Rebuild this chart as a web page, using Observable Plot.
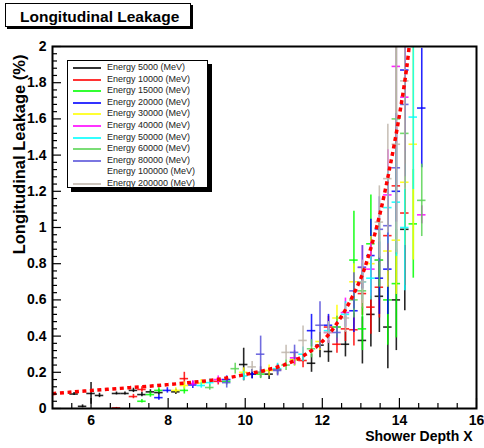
<!DOCTYPE html>
<html><head><meta charset="utf-8">
<script src="https://cdn.jsdelivr.net/npm/d3@7"></script>
<script src="https://cdn.jsdelivr.net/npm/@observablehq/plot@0.6"></script>
<style>
body{margin:0;background:#fff;font-family:"Liberation Sans",Arial,Helvetica,sans-serif;}
#wrap{position:relative;width:484px;height:448px;overflow:hidden;}
#title{position:absolute;left:5px;top:3px;width:186px;height:24px;border:1px solid #000;box-shadow:2px 2px 0 #000;background:#fff;font-weight:bold;font-size:15.5px;line-height:25px;box-sizing:border-box;padding-left:14px;white-space:nowrap;}
#legend{position:absolute;left:67px;top:60px;width:141px;height:128px;border:1px solid #000;box-shadow:4px 4px 0 #000;background:#fff;box-sizing:border-box;}
.row{position:absolute;left:0;height:11px;font-size:9px;line-height:11px;white-space:nowrap;}
.sw{position:absolute;left:5px;top:5px;width:28px;height:2px;opacity:0.8;}
.lt{position:absolute;left:39px;top:0;color:#222;}
</style></head>
<body><div id="wrap"><div id="plot"></div><div id="title">Longitudinal Leakage</div><div id="legend"></div></div>
<script>
// ---- data ----
const energies = [5000, 10000, 15000, 20000, 30000, 40000, 50000, 60000, 80000, 100000, 200000];
const colors = ["#000000", "#ff0000", "#00ff00", "#0000ff", "#ffff00", "#ff00ff", "#00ffff", "#59d454", "#5954d9", "#ffffff", "#c0b6ac"];
const xErr = 0.11;
// [x, y, yError]
const pts5000 = [[5.56,0.08,0.008],[5.78,0.012,0.008],[6.0,0.083,0.06],[6.22,0.072,0.012],[6.66,0.083,0.008],[6.88,0.083,0.008],[7.1,0.1,0.012],[7.32,0.077,0.012],[7.54,0.092,0.012],[7.76,0.088,0.015],[8.2,0.092,0.015],[9.96,0.243,0.09],[10.18,0.19,0.025],[10.62,0.19,0.03],[11.72,0.25,0.05],[11.94,0.35,0.07],[12.16,0.315,0.06],[12.6,0.355,0.07],[13.04,0.376,0.13],[13.26,0.52,0.18],[13.48,0.62,0.2],[13.7,0.45,0.23],[13.92,0.6,0.28],[14.14,0.99,0.45]];
const pts10000 = [[6.66,0.003,0.003],[7.1,0.066,0.012],[7.32,0.105,0.015],[8.42,0.165,0.035],[9.3,0.15,0.02],[10.84,0.215,0.03],[11.5,0.265,0.04],[12.16,0.45,0.06],[12.38,0.355,0.05],[12.6,0.44,0.07],[12.82,0.435,0.09],[13.04,0.635,0.12],[13.26,0.56,0.15],[13.48,0.67,0.17],[13.7,0.955,0.25],[13.92,1.23,0.35],[14.14,1.08,0.4]];
const pts15000 = [[7.32,0.04,0.01],[7.54,0.077,0.015],[7.76,0.1,0.015],[8.42,0.1,0.02],[9.52,0.15,0.02],[10.4,0.19,0.025],[11.28,0.27,0.035],[12.38,0.45,0.06],[12.82,0.82,0.27],[13.04,0.44,0.12],[13.26,0.91,0.27],[13.48,0.82,0.22],[13.7,0.6,0.25],[13.92,0.69,0.3],[14.36,1.02,0.3]];
const pts20000 = [[7.76,0.06,0.015],[7.98,0.1,0.015],[8.64,0.13,0.02],[9.52,0.16,0.02],[10.18,0.19,0.025],[11.72,0.43,0.09],[12.16,0.46,0.06],[12.82,0.54,0.12],[13.26,0.845,0.2],[13.48,0.72,0.2],[13.7,0.77,0.25],[13.92,1.2,0.35],[14.14,1.87,0.5],[14.58,1.66,0.33]];
const pts30000 = [[8.2,0.1,0.015],[8.42,0.127,0.02],[8.86,0.14,0.02],[9.96,0.2,0.025],[10.62,0.21,0.03],[11.28,0.27,0.035],[11.94,0.37,0.05],[12.38,0.5,0.07],[12.82,0.7,0.1],[13.26,0.8,0.15],[13.7,0.87,0.2],[13.92,0.93,0.3],[14.14,1.25,0.35],[14.36,1.46,0.64]];
const pts40000 = [[8.64,0.138,0.015],[9.3,0.16,0.02],[10.4,0.2,0.03],[11.28,0.28,0.04],[12.16,0.42,0.06],[12.6,0.53,0.08],[13.04,0.78,0.12],[13.26,0.77,0.15],[13.7,1.18,0.25],[13.92,1.89,0.4],[14.14,1.72,0.3],[14.58,1.07,0.05]];
const pts50000 = [[8.86,0.127,0.015],[9.08,0.143,0.02],[9.96,0.18,0.025],[10.84,0.22,0.03],[11.5,0.3,0.04],[12.16,0.43,0.05],[12.6,0.52,0.07],[13.04,0.7,0.1],[13.26,0.72,0.12],[13.7,1.11,0.2],[13.92,1.14,0.3],[14.14,1.0,0.35],[14.36,1.61,0.4]];
const pts60000 = [[9.08,0.116,0.015],[9.74,0.22,0.03],[10.4,0.2,0.03],[11.06,0.24,0.03],[11.72,0.33,0.05],[12.38,0.45,0.06],[12.82,0.6,0.1],[13.04,0.65,0.1],[13.48,0.82,0.15],[13.92,1.6,0.4],[14.14,1.52,0.3],[14.58,1.15,0.2]];
const pts80000 = [[9.52,0.143,0.03],[10.4,0.3,0.1],[10.84,0.21,0.03],[11.28,0.31,0.04],[11.94,0.46,0.13],[12.38,0.42,0.06],[12.82,0.65,0.1],[13.04,0.78,0.12],[13.48,0.99,0.18],[13.7,1.01,0.25],[13.92,1.33,0.3],[14.14,1.68,0.4]];
const pts100000 = [[9.74,0.17,0.02],[10.62,0.21,0.03],[11.5,0.3,0.04],[12.38,0.45,0.06],[13.04,0.7,0.1],[13.7,1.1,0.2]];
const pts200000 = [[10.18,0.23,0.03],[11.06,0.31,0.04],[11.5,0.376,0.08],[12.16,0.42,0.06],[12.6,0.5,0.08],[13.04,0.7,0.12],[13.48,1.03,0.2],[13.7,1.27,0.3],[13.92,1.46,0.6],[14.14,1.81,0.6]];
// fit curve
const fitX = [5.0,5.5,6.0,6.5,7.0,7.5,8.0,8.5,9.0,9.5,10.0,10.5,11.0,11.5,12.0,12.5,13.0,13.25,13.5,13.75,14.0,14.2,14.3];
const fitY = [0.082,0.091,0.099,0.107,0.115,0.123,0.132,0.142,0.153,0.168,0.188,0.21,0.24,0.29,0.37,0.51,0.72,0.88,1.08,1.33,1.62,1.9,2.1];
// axes
const xMajor = [6, 8, 10, 12, 14, 16];
const xMinor = [5.5, 6.5, 7, 7.5, 8.5, 9, 9.5, 10.5, 11, 11.5, 12.5, 13, 13.5, 14.5, 15, 15.5];
const yMajor = [0, 0.2, 0.4, 0.6, 0.8, 1, 1.2, 1.4, 1.6, 1.8, 2];
const yMinor = [0.04,0.08,0.12,0.16,0.24,0.28,0.32,0.36,0.44,0.48,0.52,0.56,0.64,0.68,0.72,0.76,0.84,0.88,0.92,0.96,1.04,1.08,1.12,1.16,1.24,1.28,1.32,1.36,1.44,1.48,1.52,1.56,1.64,1.68,1.72,1.76,1.84,1.88,1.92,1.96];

const seriesPts = [pts5000, pts10000, pts15000, pts20000, pts30000, pts40000, pts50000, pts60000, pts80000, pts100000, pts200000];

// ---- chart ----
const W = 484, H = 448, mL = 52, mR = 8, mT = 46, mB = 40;
const xDom = [5, 16], yDom = [0, 2];
const pxX = (xDom[1]-xDom[0]) / (W - mL - mR);
const pxY = (yDom[1]-yDom[0]) / (H - mT - mB);
const fit = fitX.map((x, i) => ({x, y: fitY[i]}));

const order = [9, 0, 1, 2, 3, 4, 5, 6, 7, 8, 10];
const seriesMarks = [];
for (const i of order) {
  const pts = seriesPts[i];
  const c = colors[i];
  seriesMarks.push(Plot.ruleX(pts, {x: d => d[0], y1: d => d[1]-d[2], y2: d => d[1]+d[2], stroke: c, strokeWidth: 1.6, strokeOpacity: 0.85, clip: true}));
  seriesMarks.push(Plot.ruleY(pts, {y: d => d[1], x1: d => d[0]-xErr, x2: d => d[0]+xErr, stroke: c, strokeWidth: 1.6, strokeOpacity: 0.85, clip: true}));
}

const font = {fontFamily: "Liberation Sans, Arial, sans-serif", fontWeight: "bold", fontSize: 14, fill: "#000"};

const chart = Plot.plot({
  width: W, height: H, marginLeft: mL, marginRight: mR, marginTop: mT, marginBottom: mB,
  x: {domain: xDom, axis: null},
  y: {domain: yDom, axis: null},
  style: {background: "#fff"},
  marks: [
    ...seriesMarks,
    Plot.line(fit, {x: "x", y: "y", stroke: "#ff0000", strokeWidth: 3.5, strokeDasharray: "4,3.5", strokeLinecap: "butt", strokeLinejoin: "miter", curve: "catmull-rom", clip: true}),
    // ticks (inside frame)
    Plot.ruleX(xMajor, {x: d => d, y1: yDom[0], y2: yDom[0] + 10*pxY, stroke: "#000", strokeWidth: 1.2}),
    Plot.ruleX(xMinor, {x: d => d, y1: yDom[0], y2: yDom[0] + 5*pxY, stroke: "#000", strokeWidth: 1.2}),
    Plot.ruleY(yMajor, {y: d => d, x1: xDom[0], x2: xDom[0] + 9*pxX, stroke: "#000", strokeWidth: 1.2}),
    Plot.ruleY(yMinor, {y: d => d, x1: xDom[0], x2: xDom[0] + 5*pxX, stroke: "#000", strokeWidth: 1.2}),
    Plot.text(xMajor, {x: d => d, frameAnchor: "bottom", dy: 12, text: d => String(d), textAnchor: "middle", lineAnchor: "middle", ...font}),
    Plot.text(yMajor, {y: d => d, frameAnchor: "left", dx: -6, text: d => String(d), textAnchor: "end", lineAnchor: "middle", ...font}),
    Plot.text(["Shower Depth X"], {frameAnchor: "bottom-right", dx: -4, dy: 28, textAnchor: "end", lineAnchor: "middle", ...font}),
    Plot.text(["Longitudinal Leakage (%)"], {frameAnchor: "top-left", dx: -33, dy: 8, rotate: -90, textAnchor: "end", lineAnchor: "middle", ...font, fontSize: 16.5, style: "letter-spacing:1px"}),
    Plot.frame({stroke: "#000", strokeWidth: 2})
  ]
});
document.getElementById("plot").appendChild(chart);

// legend
const leg = document.getElementById("legend");
energies.forEach((e, i) => {
  const r = document.createElement("div");
  r.className = "row";
  r.style.top = Math.round(1 + i*11.6) + "px";
  r.innerHTML = `<div class="sw" style="background:${colors[i]}"></div><div class="lt">Energy ${e} (MeV)</div>`;
  leg.appendChild(r);
});
</script>
</body></html>
